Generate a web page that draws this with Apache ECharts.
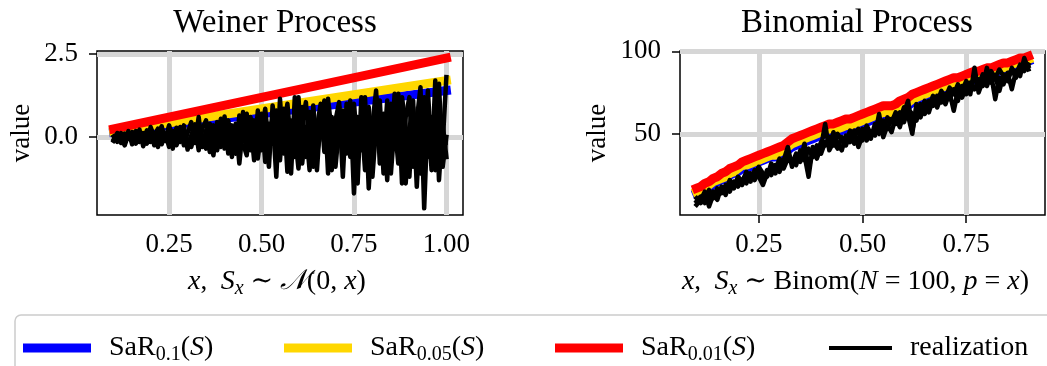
<!DOCTYPE html>
<html>
<head>
<meta charset="utf-8">
<script src="https://cdn.jsdelivr.net/npm/echarts@6/dist/echarts.min.js"></script>
<style>
  html, body { margin: 0; padding: 0; background: #ffffff; }
  #chart { width: 1047px; height: 366px; }
</style>
</head>
<body>
<div id="chart"></div>
<script>
// ---- Wiener panel: samples on x = 0.10 ... 1.00 (step 0.01) ----
const wienerX = Array.from({ length: 91 }, (_, i) => +(0.10 + i * 0.01).toFixed(2));

// SaR lines of the Wiener panel are straight: given at both ends
const wienerSaRX = [0.10, 1.00];
const wienerSaR10 = [0.14, 1.40];
const wienerSaR05 = [0.17, 1.70];
const wienerSaR01 = [0.24, 2.38];

const wienerReal1 = [
  -0.12, 0.05, -0.18, 0.10, -0.05, 0.15, -0.20, 0.08, -0.10, 0.20,
  -0.15, 0.05, 0.25, -0.22, 0.10, -0.30, 0.18, -0.08, 0.30, -0.25,
  0.12, 0.45, -0.18, 0.60, -0.30, 0.20, -0.45, 0.35, -0.20, 0.55,
  -0.35, 0.25, -0.60, 0.40, -0.80, 0.30, 0.70, -0.40, 0.50, -0.65,
  0.20, 0.85, -0.30, 0.60, -1.20, 1.15, -0.50, 0.40, -1.10, 1.20,
  -0.20, 0.90, -0.60, 0.75, -0.90, 0.30, 1.00, -0.45, 0.80, -1.00,
  0.50, 1.05, -0.70, 0.30, 1.10, -1.70, 0.60, -0.40, 1.20, -1.55,
  0.40, 1.40, -0.80, 0.70, -1.30, 1.00, -0.30, 1.30, -1.40, 0.60,
  1.20, -0.90, 0.50, 1.50, -2.15, 0.80, -1.00, 1.70, -1.30, 0.40,
  -0.60
];
const wienerReal2 = [
  0.02, -0.15, 0.12, -0.10, 0.18, -0.22, 0.05, 0.22, -0.28, 0.00,
  0.15, -0.25, 0.10, 0.32, -0.12, 0.20, -0.35, 0.28, -0.15, 0.35,
  -0.38, 0.05, 0.38, -0.40, 0.25, 0.50, -0.20, -0.55, 0.45, -0.30,
  0.62, -0.50, 0.35, 0.10, -0.55, 0.75, -0.35, 0.45, -0.70, 0.80,
  -0.40, 0.30, -0.90, 0.95, 0.10, -0.70, 0.85, -1.05, 0.50, -0.60,
  1.20, -0.80, 0.30, -1.00, 0.95, -0.50, 0.20, 1.10, -1.10, 0.60,
  -0.40, 0.90, -1.20, 1.00, -0.60, 0.70, -1.40, 1.20, -0.50, 0.90,
  -1.20, 0.30, 1.10, -1.10, 0.80, -0.70, 1.30, -0.40, 0.90, -1.40,
  0.20, 1.10, -1.50, 0.70, -0.80, 1.40, -0.50, 0.30, 1.60, -0.90,
  0.00
];
const wienerReal3 = [
  -0.08, 0.12, -0.05, -0.25, 0.08, 0.00, 0.18, -0.15, 0.12, -0.20,
  0.30, 0.00, -0.30, 0.15, -0.05, 0.35, 0.00, -0.25, 0.05, 0.20,
  -0.10, -0.30, 0.15, 0.10, -0.15, -0.35, 0.40, 0.05, -0.40, 0.15,
  -0.05, 0.50, -0.25, -0.50, 0.65, -0.20, -0.55, 0.60, 0.05, -0.30,
  0.70, -0.75, 0.40, -0.20, 0.80, -0.40, 0.30, 1.00, -0.30, 0.10,
  -0.95, 0.40, 1.05, -0.30, 0.20, -1.00, 0.70, -0.20, 1.15, 0.10,
  -0.90, 0.30, 0.80, -0.50, 0.20, 1.00, -0.30, 0.60, -1.00, 0.50,
  -0.20, 1.20, 0.10, -0.60, 1.10, -1.10, 0.40, -0.80, 1.20, 0.30,
  -1.20, 0.90, -0.30, -1.10, 1.20, -0.60, 0.60, -1.00, 0.90, -0.20,
  1.80
];

// ---- Binomial panel: samples on x = 0.10 ... 0.90 (step 0.01) ----
const binomX = Array.from({ length: 81 }, (_, i) => +(0.10 + i * 0.01).toFixed(2));

const binomSaR10 = [
  14, 15, 16, 17, 19, 21, 22, 23, 25, 26,
  27, 29, 29, 30, 31, 33, 34, 35, 36, 36,
  37, 38, 40, 42, 43, 44, 45, 46, 47, 48,
  49, 50, 51, 51, 51, 52, 53, 53, 54, 55,
  56, 57, 58, 59, 60, 61, 61, 61, 63, 65,
  66, 67, 69, 70, 71, 72, 73, 74, 75, 76,
  77, 78, 80, 80, 81, 82, 82, 83, 83, 85,
  86, 86, 87, 88, 89, 90, 90, 91, 92, 93,
  94
];
const binomSaR05 = [
  15, 16, 17, 19, 21, 22, 23, 24, 26, 27,
  29, 31, 31, 32, 33, 34, 35, 36, 37, 37,
  39, 40, 42, 44, 45, 46, 47, 48, 49, 50,
  51, 52, 53, 53, 53, 54, 55, 55, 56, 57,
  58, 59, 60, 61, 62, 63, 63, 63, 65, 67,
  68, 69, 71, 72, 73, 74, 75, 76, 77, 78,
  79, 79, 81, 81, 82, 83, 84, 85, 85, 87,
  87, 87, 88, 89, 90, 91, 92, 93, 93, 94,
  95
];
const binomSaR01 = [
  17, 18, 20, 21, 23, 24, 26, 27, 29, 30,
  31, 33, 34, 35, 36, 37, 38, 39, 40, 41,
  42, 43, 45, 47, 48, 49, 50, 51, 52, 53,
  54, 55, 56, 56, 57, 58, 59, 59, 60, 61,
  62, 63, 64, 65, 66, 67, 67, 67, 68, 70,
  71, 72, 74, 75, 76, 77, 78, 79, 80, 81,
  82, 83, 84, 84, 85, 86, 87, 88, 88, 89,
  90, 90, 91, 92, 93, 93, 94, 95, 96, 96,
  97
];
const binomReal1 = [
  9, 12, 8, 16, 11, 17, 14, 19, 15, 21,
  18, 22, 20, 26, 22, 27, 21, 28, 25, 31,
  27, 34, 42, 30, 36, 33, 44, 29, 39, 35,
  42, 56, 40, 45, 41, 48, 43, 50, 44, 47,
  53, 46, 51, 49, 62, 48, 55, 51, 60, 54,
  63, 70, 52, 64, 60, 67, 63, 71, 66, 73,
  68, 75, 64, 76, 72, 78, 74, 90, 75, 82,
  79, 86, 71, 84, 80, 87, 77, 88, 85, 96,
  89
];
const binomReal2 = [
  7, 10, 15, 6, 13, 10, 18, 13, 20, 17,
  23, 19, 25, 21, 28, 24, 19, 26, 30, 26,
  33, 29, 35, 32, 38, 35, 34, 41, 36, 43,
  38, 45, 42, 51, 44, 40, 49, 45, 52, 42,
  49, 52, 47, 56, 50, 58, 53, 59, 56, 63,
  57, 65, 62, 58, 68, 62, 70, 67, 73, 69,
  74, 71, 77, 70, 79, 74, 81, 77, 83, 79,
  90, 81, 85, 76, 86, 83, 89, 84, 91, 88,
  92
];
const binomReal3 = [
  11, 8, 13, 10, 15, 12, 17, 16, 22, 18,
  24, 21, 27, 23, 25, 30, 26, 24, 32, 28,
  35, 31, 37, 34, 31, 40, 37, 24, 42, 38,
  45, 43, 48, 43, 50, 46, 44, 52, 48, 53,
  46, 55, 50, 53, 57, 52, 60, 57, 63, 58,
  66, 61, 50, 68, 64, 70, 66, 73, 69, 76,
  72, 78, 74, 80, 76, 82, 78, 84, 80, 86,
  82, 88, 84, 89, 85, 82, 90, 86, 92, 90,
  91
];

// tick positions
const wienerXTicks = [0.25, 0.50, 0.75, 1.00];
const wienerYTicks = [0.0, 2.5];
const binomXTicks = [0.25, 0.50, 0.75];
const binomYTicks = [50, 100];

const SERIF = "'Liberation Serif', 'DejaVu Serif', serif";
const BLUE = '#0000ff', GOLD = '#ffd700', RED = '#ff0000', BLACK = '#000000';

const pairs = (xs, ys) => xs.map((x, i) => [x, ys[i]]);

const mathRich = (size) => ({
  i: { fontStyle: 'italic', fontSize: size, fontFamily: SERIF, lineHeight: 34, color: '#000' },
  r: { fontSize: size, fontFamily: SERIF, lineHeight: 34, color: '#000' },
  sub: { fontStyle: 'italic', fontSize: Math.round(size * 0.7), fontFamily: SERIF, lineHeight: 18, verticalAlign: 'bottom', color: '#000' },
  subr: { fontSize: Math.round(size * 0.7), fontFamily: SERIF, lineHeight: 18, verticalAlign: 'bottom', color: '#000' }
});

function valueAxis(gridIndex, min, max, ticks, fmt, labelMargin, extra) {
  return Object.assign({
    type: 'value', gridIndex, min, max,
    axisLine: { show: false },
    axisTick: { show: true, inside: false, length: 8, customValues: ticks, lineStyle: { color: '#000', width: 1.5 } },
    axisLabel: { customValues: ticks, formatter: fmt, margin: labelMargin, fontFamily: SERIF, fontSize: 27, color: '#000' },
    splitLine: { show: true, lineStyle: { color: '#d6d6d6', width: 5 } }
  }, extra);
}

function line(name, xi, yi, data, color, width) {
  return {
    type: 'line', name, xAxisIndex: xi, yAxisIndex: yi, data,
    color, symbol: 'none', showSymbol: false, animation: false,
    lineStyle: { color, width, cap: 'square', join: 'round' }
  };
}

const yName = (gap) => ({
  name: 'value', nameLocation: 'middle', nameGap: gap, nameRotate: 90,
  nameTextStyle: { fontFamily: SERIF, fontSize: 27, color: '#000' }
});

const legendBase = (left, name, w, h) => ({
  left, top: 334, padding: 0, itemWidth: w, itemHeight: h, icon: 'rect',
  selectedMode: false, data: [name],
  formatter: (n) => ({
    sar10: '{r|SaR}{subr|0.1}{r|(}{i|S}{r|)}',
    sar05: '{r|SaR}{subr|0.05}{r|(}{i|S}{r|)}',
    sar01: '{r|SaR}{subr|0.01}{r|(}{i|S}{r|)}',
    realization: '{r|realization}'
  })[n],
  textStyle: { padding: [0, 0, 0, 13], rich: mathRich(28) }
});

const option = {
  backgroundColor: '#ffffff',
  animation: false,
  grid: [
    { left: 97, top: 51, width: 366, height: 164, show: true, borderColor: '#000', borderWidth: 1.5, backgroundColor: 'transparent' },
    { left: 680, top: 51, width: 365, height: 164, show: true, borderColor: '#000', borderWidth: 1.5, backgroundColor: 'transparent' }
  ],
  xAxis: [
    valueAxis(0, 0.055, 1.045, wienerXTicks, (v) => v.toFixed(2), 16, {
      name: '{i|x},  {i|S}{sub|x} ∼ {i|𝒩}{r|(0, }{i|x}{r|)}', nameLocation: 'middle', nameGap: 50,
      nameTextStyle: { fontFamily: SERIF, fontSize: 27, color: '#000', padding: [0, 6, 0, 0], rich: mathRich(28) }
    }),
    valueAxis(1, 0.06, 0.94, binomXTicks, (v) => v.toFixed(2), 16, {
      name: '{i|x},  {i|S}{sub|x} ∼ {r|Binom(}{i|N}{r| = 100, }{i|p}{r| = }{i|x}{r|)}', nameLocation: 'middle', nameGap: 50,
      nameTextStyle: { fontFamily: SERIF, fontSize: 27, color: '#000', padding: [0, 14, 0, 0], rich: mathRich(28) }
    })
  ],
  yAxis: [
    valueAxis(0, -2.35, 2.59, wienerYTicks, (v) => v.toFixed(1), 19, yName(62)),
    valueAxis(1, 0.8, 100.2, binomYTicks, (v) => String(Math.round(v)), 19, yName(69))
  ],
  legend: [
    legendBase(23, 'sar10', 68, 9),
    legendBase(284, 'sar05', 68, 9),
    legendBase(555, 'sar01', 68, 9),
    legendBase(829, 'realization', 63, 4)
  ],
  graphic: [
    { type: 'rect', z: -10, shape: { x: 15, y: 315, width: 1100, height: 100, r: 6 },
      style: { fill: '#ffffff', stroke: '#cccccc', lineWidth: 1.5 } },
    { type: 'text', x: 275, y: 7, style: { text: 'Weiner Process', align: 'center', verticalAlign: 'top', font: "33px 'Liberation Serif', 'DejaVu Serif', serif", fill: '#000' } },
    { type: 'text', x: 857, y: 7, style: { text: 'Binomial Process', align: 'center', verticalAlign: 'top', font: "33px 'Liberation Serif', 'DejaVu Serif', serif", fill: '#000' } }
  ],
  series: [
    line('sar10', 0, 0, pairs(wienerSaRX, wienerSaR10), BLUE, 9),
    line('sar05', 0, 0, pairs(wienerSaRX, wienerSaR05), GOLD, 9),
    line('sar01', 0, 0, pairs(wienerSaRX, wienerSaR01), RED, 9),
    line('realization', 0, 0, pairs(wienerX, wienerReal1), BLACK, 4.5),
    line('realization', 0, 0, pairs(wienerX, wienerReal2), BLACK, 4.5),
    line('realization', 0, 0, pairs(wienerX, wienerReal3), BLACK, 4.5),
    line('sar10', 1, 1, pairs(binomX, binomSaR10), BLUE, 9),
    line('sar05', 1, 1, pairs(binomX, binomSaR05), GOLD, 9),
    line('sar01', 1, 1, pairs(binomX, binomSaR01), RED, 9),
    line('realization', 1, 1, pairs(binomX, binomReal1), BLACK, 4.5),
    line('realization', 1, 1, pairs(binomX, binomReal2), BLACK, 4.5),
    line('realization', 1, 1, pairs(binomX, binomReal3), BLACK, 4.5)
  ]
};

const chart = echarts.init(document.getElementById('chart'), null, { renderer: 'canvas' });
chart.setOption(option);
</script>
</body>
</html>
